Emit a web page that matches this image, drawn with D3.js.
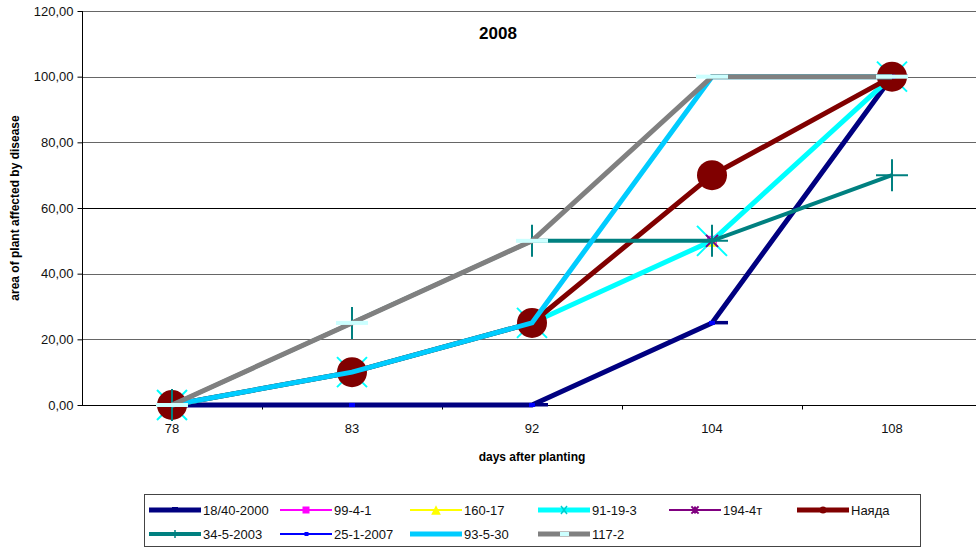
<!DOCTYPE html>
<html>
<head>
<meta charset="utf-8">
<script src="https://cdn.jsdelivr.net/npm/d3@7/dist/d3.min.js"></script>
<style>
  html, body { margin: 0; padding: 0; background: #fff; }
  svg { display: block; font-family: "Liberation Sans", Arial, sans-serif; }
</style>
</head>
<body>
<svg id="chart" width="976" height="549"></svg>
<script>
// Days after planting (categories)
const days = ["78", "83", "92", "104", "108"];
const yTicks = [0, 20, 40, 60, 80, 100, 120];

// Share of plant area affected by disease, per variety
const v18_40_2000 = [0, 0, 0, 25, 100];
const v99_4_1     = [0, 10, 25, 50, 100];
const v160_17     = [0, 10, 25, 50, 100];
const v91_19_3    = [0, 10, 25, 50, 100];
const v194_4t     = [0, 10, 25, 50, 100];
const vNayada     = [0, 10, 25, 70, 100];
const v34_5_2003  = [0, 25, 50, 50, 70];
const v25_1_2007  = [0, 0, 0, 25, 100];
const v93_5_30    = [0, 10, 25, 100, 100];
const v117_2      = [0, 25, 50, 100, 100];

const seriesNames = ["18/40-2000", "99-4-1", "160-17", "91-19-3", "194-4т", "Наяда",
                     "34-5-2003", "25-1-2007", "93-5-30", "117-2"];
const seriesValues = [v18_40_2000, v99_4_1, v160_17, v91_19_3, v194_4t, vNayada,
                      v34_5_2003, v25_1_2007, v93_5_30, v117_2];

// Styling per series (colour, line width, marker kind)
const styles = {
  "18/40-2000": { color: "#000080", width: 5, marker: "dashR" },
  "99-4-1":     { color: "#FF00FF", width: 2, marker: "square" },
  "160-17":     { color: "#FFFF00", width: 2, marker: "triangle" },
  "91-19-3":    { color: "#00FFFF", width: 5, marker: "x" },
  "194-4т":     { color: "#800080", width: 2, marker: "star" },
  "Наяда":      { color: "#800000", width: 5, marker: "circle" },
  "34-5-2003":  { color: "#008080", width: 4, marker: "plus" },
  "25-1-2007":  { color: "#0000FF", width: 2, marker: "dashS" },
  "93-5-30":    { color: "#00CCFF", width: 5, marker: "none" },
  "117-2":      { color: "#808080", width: 5, marker: "bar" }
};

const series = seriesNames.map((n, i) => ({
  name: n,
  values: days.map((d, j) => ({ day: d, v: seriesValues[i][j] }))
}));

const svg = d3.select("#chart");
const plotL = 82, plotR = 982, plotT = 11, plotB = 405;

const xBand = d3.scaleBand().domain(days).range([plotL, plotR]);
const x = d3.scalePoint().domain(days).range([plotL, plotR]).padding(0.5);
const y = d3.scaleLinear().domain([0, 120]).range([plotB, plotT]);

// Horizontal gridlines
svg.append("g").selectAll("line").data(yTicks.filter(t => t > 0)).join("line")
  .attr("x1", plotL).attr("x2", plotR)
  .attr("y1", d => Math.round(y(d)) + 0.5).attr("y2", d => Math.round(y(d)) + 0.5)
  .attr("stroke", d => d === 60 ? "#000" : "#666").attr("stroke-width", 1);

// Y axis
const yAxis = svg.append("g").attr("transform", `translate(${plotL + 0.5},0)`)
  .call(d3.axisLeft(y).tickValues(yTicks).tickSize(5).tickPadding(4)
    .tickFormat(d => d3.format(".2f")(d).replace(".", ",")));
yAxis.select(".domain").attr("stroke", "#000").attr("d", `M0,${plotT}V${plotB}`);
yAxis.selectAll(".tick line").attr("stroke", "#000");
yAxis.selectAll(".tick text").attr("font-size", 13).attr("fill", "#111")
  .attr("font-family", "Liberation Sans, Arial, sans-serif");

// X axis with tick marks between categories
const xAxisG = svg.append("g").attr("transform", `translate(0,${plotB + 0.5})`);
xAxisG.append("line").attr("x1", plotL).attr("x2", plotR).attr("stroke", "#000");
xAxisG.selectAll("line.tk").data(days.slice(1)).join("line").attr("class", "tk")
  .attr("x1", d => Math.round(xBand(d)) + 0.5).attr("x2", d => Math.round(xBand(d)) + 0.5)
  .attr("y1", 0).attr("y2", 4).attr("stroke", "#000");
xAxisG.selectAll("text").data(days).join("text")
  .attr("x", d => x(d)).attr("y", 27).attr("text-anchor", "middle")
  .attr("font-size", 13).attr("fill", "#111").text(d => d);

// Titles
svg.append("text").attr("x", 498).attr("y", 39).attr("text-anchor", "middle")
  .attr("font-size", 17).attr("font-weight", "bold").text("2008");
svg.append("text").attr("x", (plotL + plotR) / 2).attr("y", 461).attr("text-anchor", "middle")
  .attr("font-size", 12).attr("font-weight", "bold").text("days after planting");
svg.append("text").attr("transform", "translate(19,208) rotate(-90)")
  .attr("text-anchor", "middle").attr("font-size", 12).attr("font-weight", "bold")
  .text("area of plant affected by disease");

// Marker drawing
function drawMarker(g, kind, color, cx, cy, s) {
  switch (kind) {
    case "circle":
      g.append("circle").attr("cx", cx).attr("cy", cy).attr("r", 15 * s).attr("fill", color);
      break;
    case "square":
      g.append("rect").attr("x", cx - 5 * s).attr("y", cy - 5 * s)
        .attr("width", 10 * s).attr("height", 10 * s).attr("fill", color);
      break;
    case "triangle":
      g.append("path").attr("d", `M${cx},${cy - 6 * s}L${cx + 6 * s},${cy + 6 * s}L${cx - 6 * s},${cy + 6 * s}Z`)
        .attr("fill", color);
      break;
    case "x": {
      const a = 15 * s;
      g.append("path").attr("d", `M${cx - a},${cy - a}L${cx + a},${cy + a}M${cx - a},${cy + a}L${cx + a},${cy - a}`)
        .attr("stroke", color).attr("stroke-width", 2);
      break;
    }
    case "star": {
      const a = 6 * s;
      g.append("path").attr("d", `M${cx - a},${cy - a}L${cx + a},${cy + a}M${cx - a},${cy + a}L${cx + a},${cy - a}M${cx},${cy - a}V${cy + a}`)
        .attr("stroke", color).attr("stroke-width", 2);
      break;
    }
    case "plus": {
      const a = 16 * s;
      g.append("path").attr("d", `M${cx - a},${cy}H${cx + a}M${cx},${cy - a}V${cy + a}`)
        .attr("stroke", color).attr("stroke-width", 2);
      break;
    }
    case "bar":
      g.append("rect").attr("x", cx - 16 * s).attr("y", cy - 2).attr("width", 32 * s).attr("height", 4)
        .attr("fill", "#CCFFFF");
      break;
    case "dashR":
      g.append("rect").attr("x", cx - 1).attr("y", cy - 2).attr("width", 17 * s).attr("height", 3.5)
        .attr("fill", color);
      break;
    case "dashS":
      g.append("rect").attr("x", cx - 3).attr("y", cy - 2).attr("width", 6).attr("height", 4)
        .attr("fill", color);
      break;
  }
}

const line = d3.line().defined(d => d.v != null).x(d => x(d.day)).y(d => y(d.v));

// Thin connector lines sit underneath the heavy ones; everything else is
// painted series by series (line, then its markers) in legend order.
const underLayer = svg.append("g");
const plot = svg.append("g");
series.forEach(s => {
  const st = styles[s.name];
  const target = st.width <= 2 ? underLayer : plot;
  target.append("path").datum(s.values).attr("d", line)
    .attr("fill", "none").attr("stroke", st.color).attr("stroke-width", st.width)
    .attr("stroke-linejoin", "miter");
  const g = plot.append("g");
  s.values.filter(d => d.v != null).forEach(d => drawMarker(g, st.marker, st.color, x(d.day), y(d.v), 1));
});

// Legend
const lg = svg.append("g");
lg.append("rect").attr("x", 144.5).attr("y", 494.5).attr("width", 776).attr("height", 52)
  .attr("fill", "#fff").attr("stroke", "#444").attr("stroke-width", 1);
const colX = [149, 280, 410, 538, 669, 797];
seriesNames.forEach((name, i) => {
  const st = styles[name];
  const cx0 = colX[i % 6], cy = i < 6 ? 510 : 534;
  const g = lg.append("g");
  g.append("line").attr("x1", cx0).attr("x2", cx0 + 52).attr("y1", cy).attr("y2", cy)
    .attr("stroke", st.color).attr("stroke-width", st.width);
  const mx = cx0 + 26;
  if (st.marker === "circle") {
    g.append("circle").attr("cx", mx).attr("cy", cy).attr("r", 3.5).attr("fill", st.color);
  } else if (st.marker === "plus") {
    g.append("line").attr("x1", mx).attr("x2", mx).attr("y1", cy - 4).attr("y2", cy + 4)
      .attr("stroke", st.color).attr("stroke-width", 1.5);
  } else if (st.marker === "bar") {
    g.append("rect").attr("x", mx - 4).attr("y", cy - 2).attr("width", 9).attr("height", 4).attr("fill", "#CCFFFF");
  } else if (st.marker === "x") {
    g.append("path").attr("d", `M${mx - 3},${cy - 4}L${mx + 3},${cy + 4}M${mx - 3},${cy + 4}L${mx + 3},${cy - 4}`)
      .attr("stroke", "#00CCCC").attr("stroke-width", 1.5);
  } else if (st.marker === "star") {
    drawMarker(g, "star", st.color, mx, cy, 0.6);
  } else if (st.marker === "square") {
    drawMarker(g, "square", st.color, mx, cy, 0.7);
  } else if (st.marker === "triangle") {
    drawMarker(g, "triangle", st.color, mx, cy, 0.8);
  } else if (st.marker === "dashS") {
    g.append("rect").attr("x", mx - 1.5).attr("y", cy - 2).attr("width", 4).attr("height", 4).attr("fill", st.color);
  } else if (st.marker === "dashR") {
    g.append("rect").attr("x", mx - 3).attr("y", cy - 3).attr("width", 6).attr("height", 5).attr("fill", st.color);
  }
  g.append("text").attr("x", cx0 + 54).attr("y", cy + 5).attr("font-size", 13).attr("fill", "#111").text(name);
});
</script>
</body>
</html>
